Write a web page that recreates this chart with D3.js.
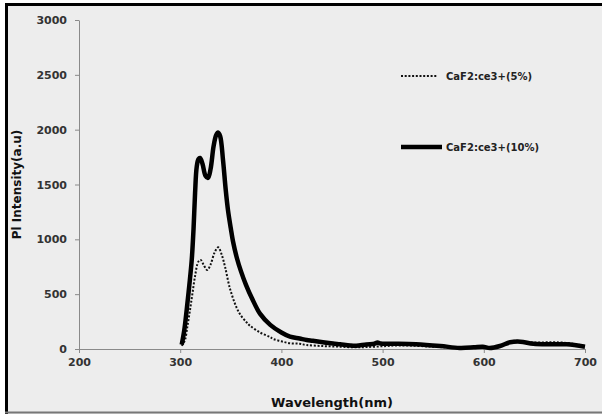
<!DOCTYPE html>
<html>
  <head>
    <title>CaF2:ce3+ PL spectra</title>
    <script src="https://d3js.org/d3.v7.min.js"></script>
    <style>
      body { margin: 0; background: #fff; }
      svg { display: block; }
      .tick text { font-family: "DejaVu Sans", sans-serif; font-weight: bold; font-size: 11px; fill: #333; }
      .tick line, .domain { stroke: #8a8a8a; }
      .axis-label { font-family: "DejaVu Sans", sans-serif; font-weight: bold; fill: #111; }
      .legend-text { font-family: "DejaVu Sans", sans-serif; font-weight: bold; font-size: 10px; fill: #222; }
    </style>
  </head>
  <body>
    <svg></svg>
    <script>
      // spectra: wavelength (nm) and PL intensity (a.u.)
      const wl10 = [301.5, 304, 306.4, 309, 311.4, 313.2, 314.7, 316.3, 318, 319.6, 322, 325, 327.5, 330, 333, 335.5, 337.4, 339.5, 342.3, 345, 347.2, 350, 352.2, 356, 360, 365, 371, 379, 389, 400, 408.5, 418, 425, 431, 441, 451, 458, 468, 474, 484, 492, 495, 498, 510, 533, 557, 576, 590, 599, 606, 616, 626, 636, 649, 665, 682, 700];
      const pl10 = [40, 170, 356, 580, 812, 1100, 1423, 1660, 1730, 1742, 1690, 1580, 1560, 1640, 1850, 1950, 1975, 1940, 1724, 1450, 1268, 1100, 980, 830, 710, 585, 460, 320, 220, 150, 112, 95, 82, 75, 62, 50, 43, 32, 30, 42, 48, 60, 50, 48, 43, 27, 10, 15, 21, 9, 27, 61, 67, 48, 43, 43, 21];

      const wl5 = [301.5, 304.7, 307, 309.7, 312, 314.6, 317.9, 320.2, 323, 326.7, 330, 334, 337.6, 341, 344.3, 349.2, 355.8, 360, 365.7, 369, 379, 388.7, 392, 400, 408.5, 418, 425, 441, 458, 474, 484, 500, 517, 550, 576, 599, 616, 629, 640, 649, 675, 690, 700];
      const pl5 = [30, 82, 200, 356, 500, 660, 796, 812, 770, 720, 770, 880, 927, 860, 750, 550, 375, 305, 242, 212, 150, 110, 91, 70, 52, 48, 36, 27, 21, 15, 18, 25, 33, 21, 9, 12, 27, 73, 65, 60, 60, 45, 27];

      const seriesNames = ['CaF2:ce3+(5%)', 'CaF2:ce3+(10%)'];
      const xTicks = [200, 300, 400, 500, 600, 700];
      const yTicks = [0, 500, 1000, 1500, 2000, 2500, 3000];

      const svg = d3.select('svg')
        .attr('width', 602)
        .attr('height', 414);

      // chart frame
      svg.append('rect')
        .attr('x', 5).attr('y', 3)
        .attr('width', 597).attr('height', 411)
        .attr('fill', '#ededed');
      svg.append('line')
        .attr('x1', 5).attr('x2', 602).attr('y1', 4.5).attr('y2', 4.5)
        .attr('stroke', '#000').attr('stroke-width', 3);
      svg.append('line')
        .attr('x1', 6.5).attr('x2', 6.5).attr('y1', 3).attr('y2', 414)
        .attr('stroke', '#000').attr('stroke-width', 3);
      svg.append('line')
        .attr('x1', 5).attr('x2', 602).attr('y1', 412.5).attr('y2', 412.5)
        .attr('stroke', '#777').attr('stroke-width', 2);

      var margin = { top: 20, left: 79 };
      var innerWidth = 506;
      var innerHeight = 329;

      const xScale = d3.scaleLinear().domain([200, 700]).range([0, innerWidth]);
      const yScale = d3.scaleLinear().domain([0, 3000]).range([innerHeight, 0]);

      const g = svg.append('g')
        .attr('transform', `translate(${margin.left},${margin.top})`);

      const yAxisG = g.append('g')
        .call(d3.axisLeft(yScale).tickValues(yTicks).tickFormat(d3.format('d'))
          .tickSize(4).tickSizeOuter(0).tickPadding(8));
      yAxisG.selectAll('.tick line').attr('stroke', '#8a8a8a');

      const xAxisG = g.append('g')
        .attr('transform', `translate(0,${innerHeight})`)
        .call(d3.axisBottom(xScale).tickValues(xTicks).tickFormat(d3.format('d'))
          .tickSize(4).tickSizeOuter(0).tickPadding(5));
      xAxisG.selectAll('.tick line').attr('stroke', '#8a8a8a');

      g.append('text')
        .attr('class', 'axis-label')
        .attr('x', 253)
        .attr('y', 387)
        .attr('text-anchor', 'middle')
        .style('font-size', '13px')
        .text('Wavelength(nm)');

      g.append('text')
        .attr('class', 'axis-label')
        .attr('transform', 'rotate(-90)')
        .attr('x', -innerHeight / 2)
        .attr('y', -58)
        .attr('text-anchor', 'middle')
        .style('font-size', '12px')
        .text('Pl Intensity(a.u)');

      const line = d3.line()
        .x(d => xScale(d[0]))
        .y(d => yScale(d[1]))
        .curve(d3.curveCatmullRom);

      const data5 = wl5.map((w, i) => [w, pl5[i]]);
      const data10 = wl10.map((w, i) => [w, pl10[i]]);

      g.append('path')
        .datum(data5)
        .attr('d', line)
        .attr('fill', 'none')
        .attr('stroke', '#111')
        .attr('stroke-width', 2)
        .attr('stroke-dasharray', '2,1.7');

      g.append('path')
        .datum(data10)
        .attr('d', line)
        .attr('fill', 'none')
        .attr('stroke', '#000')
        .attr('stroke-width', 4.5)
        .attr('stroke-linejoin', 'round');

      // legend
      const legend = svg.append('g');
      legend.append('line')
        .attr('x1', 401).attr('x2', 438).attr('y1', 76).attr('y2', 76)
        .attr('stroke', '#111').attr('stroke-width', 2).attr('stroke-dasharray', '2,1.7');
      legend.append('text')
        .attr('class', 'legend-text')
        .attr('x', 446).attr('y', 79.5)
        .text(seriesNames[0]);
      legend.append('line')
        .attr('x1', 401).attr('x2', 442).attr('y1', 147).attr('y2', 147)
        .attr('stroke', '#000').attr('stroke-width', 4.5);
      legend.append('text')
        .attr('class', 'legend-text')
        .attr('x', 446).attr('y', 150.5)
        .text(seriesNames[1]);
    </script>
  </body>
</html>
